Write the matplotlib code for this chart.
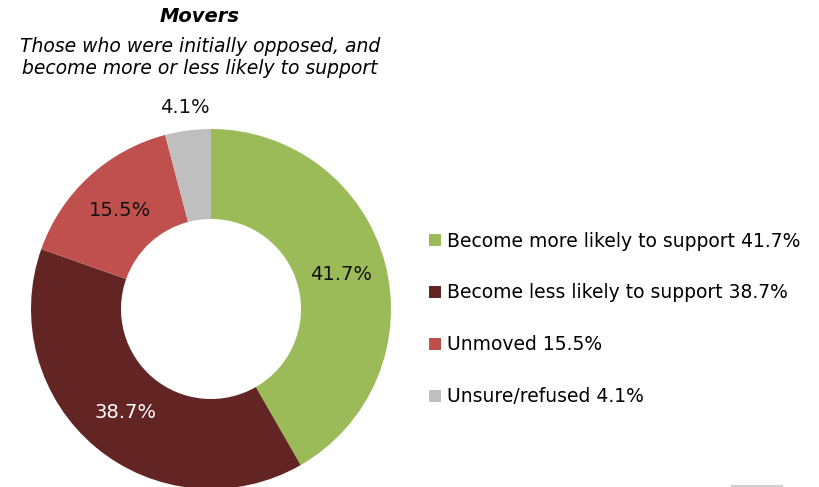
import matplotlib
matplotlib.use("Agg")
import matplotlib.pyplot as plt
from matplotlib.patches import Patch
import numpy as np

categories = ["Become more likely to support", "Become less likely to support", "Unmoved", "Unsure/refused"]
values = [41.7, 38.7, 15.5, 4.1]
colors = ["#9BBB59", "#632523", "#C0504D", "#BFBFBF"]
label_colors = ["#111111", "white", "#111111", "#111111"]
title = "Movers"
subtitle = "Those who were initially opposed, and\nbecome more or less likely to support"

plt.rcParams['font.family'] = ['DejaVu Sans']
W, H = 819, 487
fig = plt.figure(figsize=(W/100, H/100), dpi=100)
ax = fig.add_axes([0, 0, 1, 1])
ax.set_xlim(0, W)
ax.set_ylim(0, H)
ax.set_aspect('equal')
ax.axis('off')

cx, cy, R = 211, H - 309, 180
wedges, texts, autotexts = ax.pie(values, colors=colors, startangle=90, counterclock=False,
                                  center=(cx, cy), radius=R, autopct='%.1f%%', pctdistance=0.745,
                                  wedgeprops=dict(width=90, linewidth=0), textprops=dict(fontsize=14))
ax.set_xlim(0, W)
ax.set_ylim(0, H)
for t, c in zip(autotexts, label_colors):
    t.set_color(c)
# move last label outside
w = wedges[-1]
ang = np.deg2rad((w.theta1 + w.theta2) / 2)
autotexts[-1].set_position((cx + 1.13 * R * np.cos(ang), cy + 1.13 * R * np.sin(ang)))

fig.text(200/W, 1 - 17/H, title, ha='center', va='center', fontsize=14, fontweight='bold', style='italic')
fig.text(200/W, 1 - 57/H, subtitle, ha='center', va='center', fontsize=13.5, style='italic', linespacing=1.2)

handles = [Patch(facecolor=c, edgecolor='none') for c in colors]
labels = [f"{c} {v:.1f}%" for c, v in zip(categories, values)]
leg = fig.legend(handles, labels, loc='upper left', bbox_to_anchor=(429/W, 1 - 231.5/H), frameon=False,
                 fontsize=13.5, handlelength=0.64, handleheight=0.64, handletextpad=0.32,
                 labelspacing=1.76, borderaxespad=0, borderpad=0)
ax.plot([732, 782], [1, 1], color='#D0D0D0', lw=1.5, clip_on=False)
fig.savefig("out.png", dpi=100)
